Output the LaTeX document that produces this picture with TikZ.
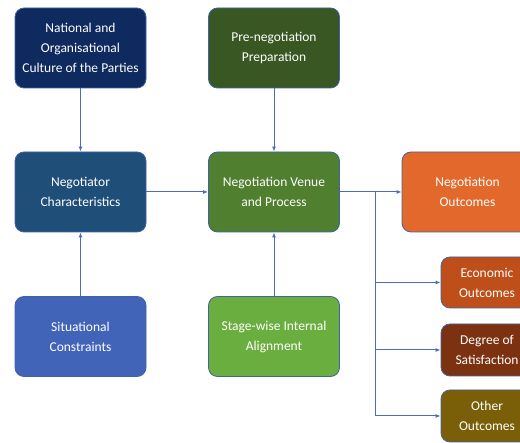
\documentclass[tikz,border=0pt]{standalone}
\usepackage{fontspec}
\setmainfont{Carlito}
\usetikzlibrary{arrows.meta}
\definecolor{navy}{HTML}{0E2A5E}
\definecolor{steel}{HTML}{1F4E79}
\definecolor{midblue}{HTML}{4163B8}
\definecolor{dkgreen}{HTML}{385723}
\definecolor{mdgreen}{HTML}{4F7F2F}
\definecolor{ltgreen}{HTML}{6AAE40}
\definecolor{orng}{HTML}{E2682C}
\definecolor{rust}{HTML}{BE4F1B}
\definecolor{brwn}{HTML}{7C3211}
\definecolor{olive}{HTML}{7A5E08}
\definecolor{edge}{HTML}{41649E}
\definecolor{link}{HTML}{4A6CC0}
\tikzset{
  box/.style={draw=edge, line width=0.8pt, rounded corners=9pt, text=white,
    align=center, font=\fontsize{13.5}{20}\selectfont, inner sep=0pt},
  link/.style={draw=link, line width=1pt, -{Latex[length=5pt,width=4pt]}},
  plain/.style={draw=link, line width=1pt}
}
\begin{document}
\begin{tikzpicture}[x=1pt,y=-1pt]
\useasboundingbox (0,0) rectangle (520,443);
\begin{scope}
\clip (0,0) rectangle (520,443);
% left column
\node[box, fill=navy, minimum width=131pt, minimum height=80pt] (nat) at (80.5,48) {National and\\Organisational\\Culture of the Parties};
\node[box, fill=steel, minimum width=131pt, minimum height=80pt] (neg) at (80.5,192) {Negotiator\\Characteristics};
\node[box, fill=midblue, minimum width=131pt, minimum height=80pt] (sit) at (80.5,336.5) {Situational\\Constraints};
% middle column
\node[box, fill=dkgreen, minimum width=131pt, minimum height=80pt] (pre) at (274,48) {Pre-negotiation\\Preparation};
\node[box, fill=mdgreen, minimum width=131pt, minimum height=80pt] (ven) at (274,192) {Negotiation Venue\\and Process};
\node[box, fill=ltgreen, minimum width=131pt, minimum height=80pt] (stg) at (274,336.5) {Stage-wise Internal\\Alignment};
% outcomes
\node[box, fill=orng, minimum width=131pt, minimum height=80pt] (out) at (467.5,192) {Negotiation\\Outcomes};
\node[box, fill=rust, minimum width=92pt, minimum height=51pt] (eco) at (487,282.5) {Economic\\Outcomes};
\node[box, fill=brwn, minimum width=92pt, minimum height=52pt] (deg) at (487,350) {Degree of\\Satisfaction};
\node[box, fill=olive, minimum width=92pt, minimum height=52pt] (oth) at (487,416) {Other\\Outcomes};
\end{scope}
% connectors
\draw[link] (nat) -- (neg);
\draw[link] (sit) -- (neg);
\draw[link] (pre) -- (ven);
\draw[link] (stg) -- (ven);
\draw[link] (neg) -- (ven);
\draw[link] (ven.east) -- (ven.east -| out.west);
\coordinate (fork) at (375,192);
\draw[plain] (fork) -- (fork |- oth);
\draw[link] (fork |- eco) -- (eco.west);
\draw[link] (fork |- deg) -- (deg.west);
\draw[link] (fork |- oth) -- (oth.west);
\end{tikzpicture}
\end{document}
